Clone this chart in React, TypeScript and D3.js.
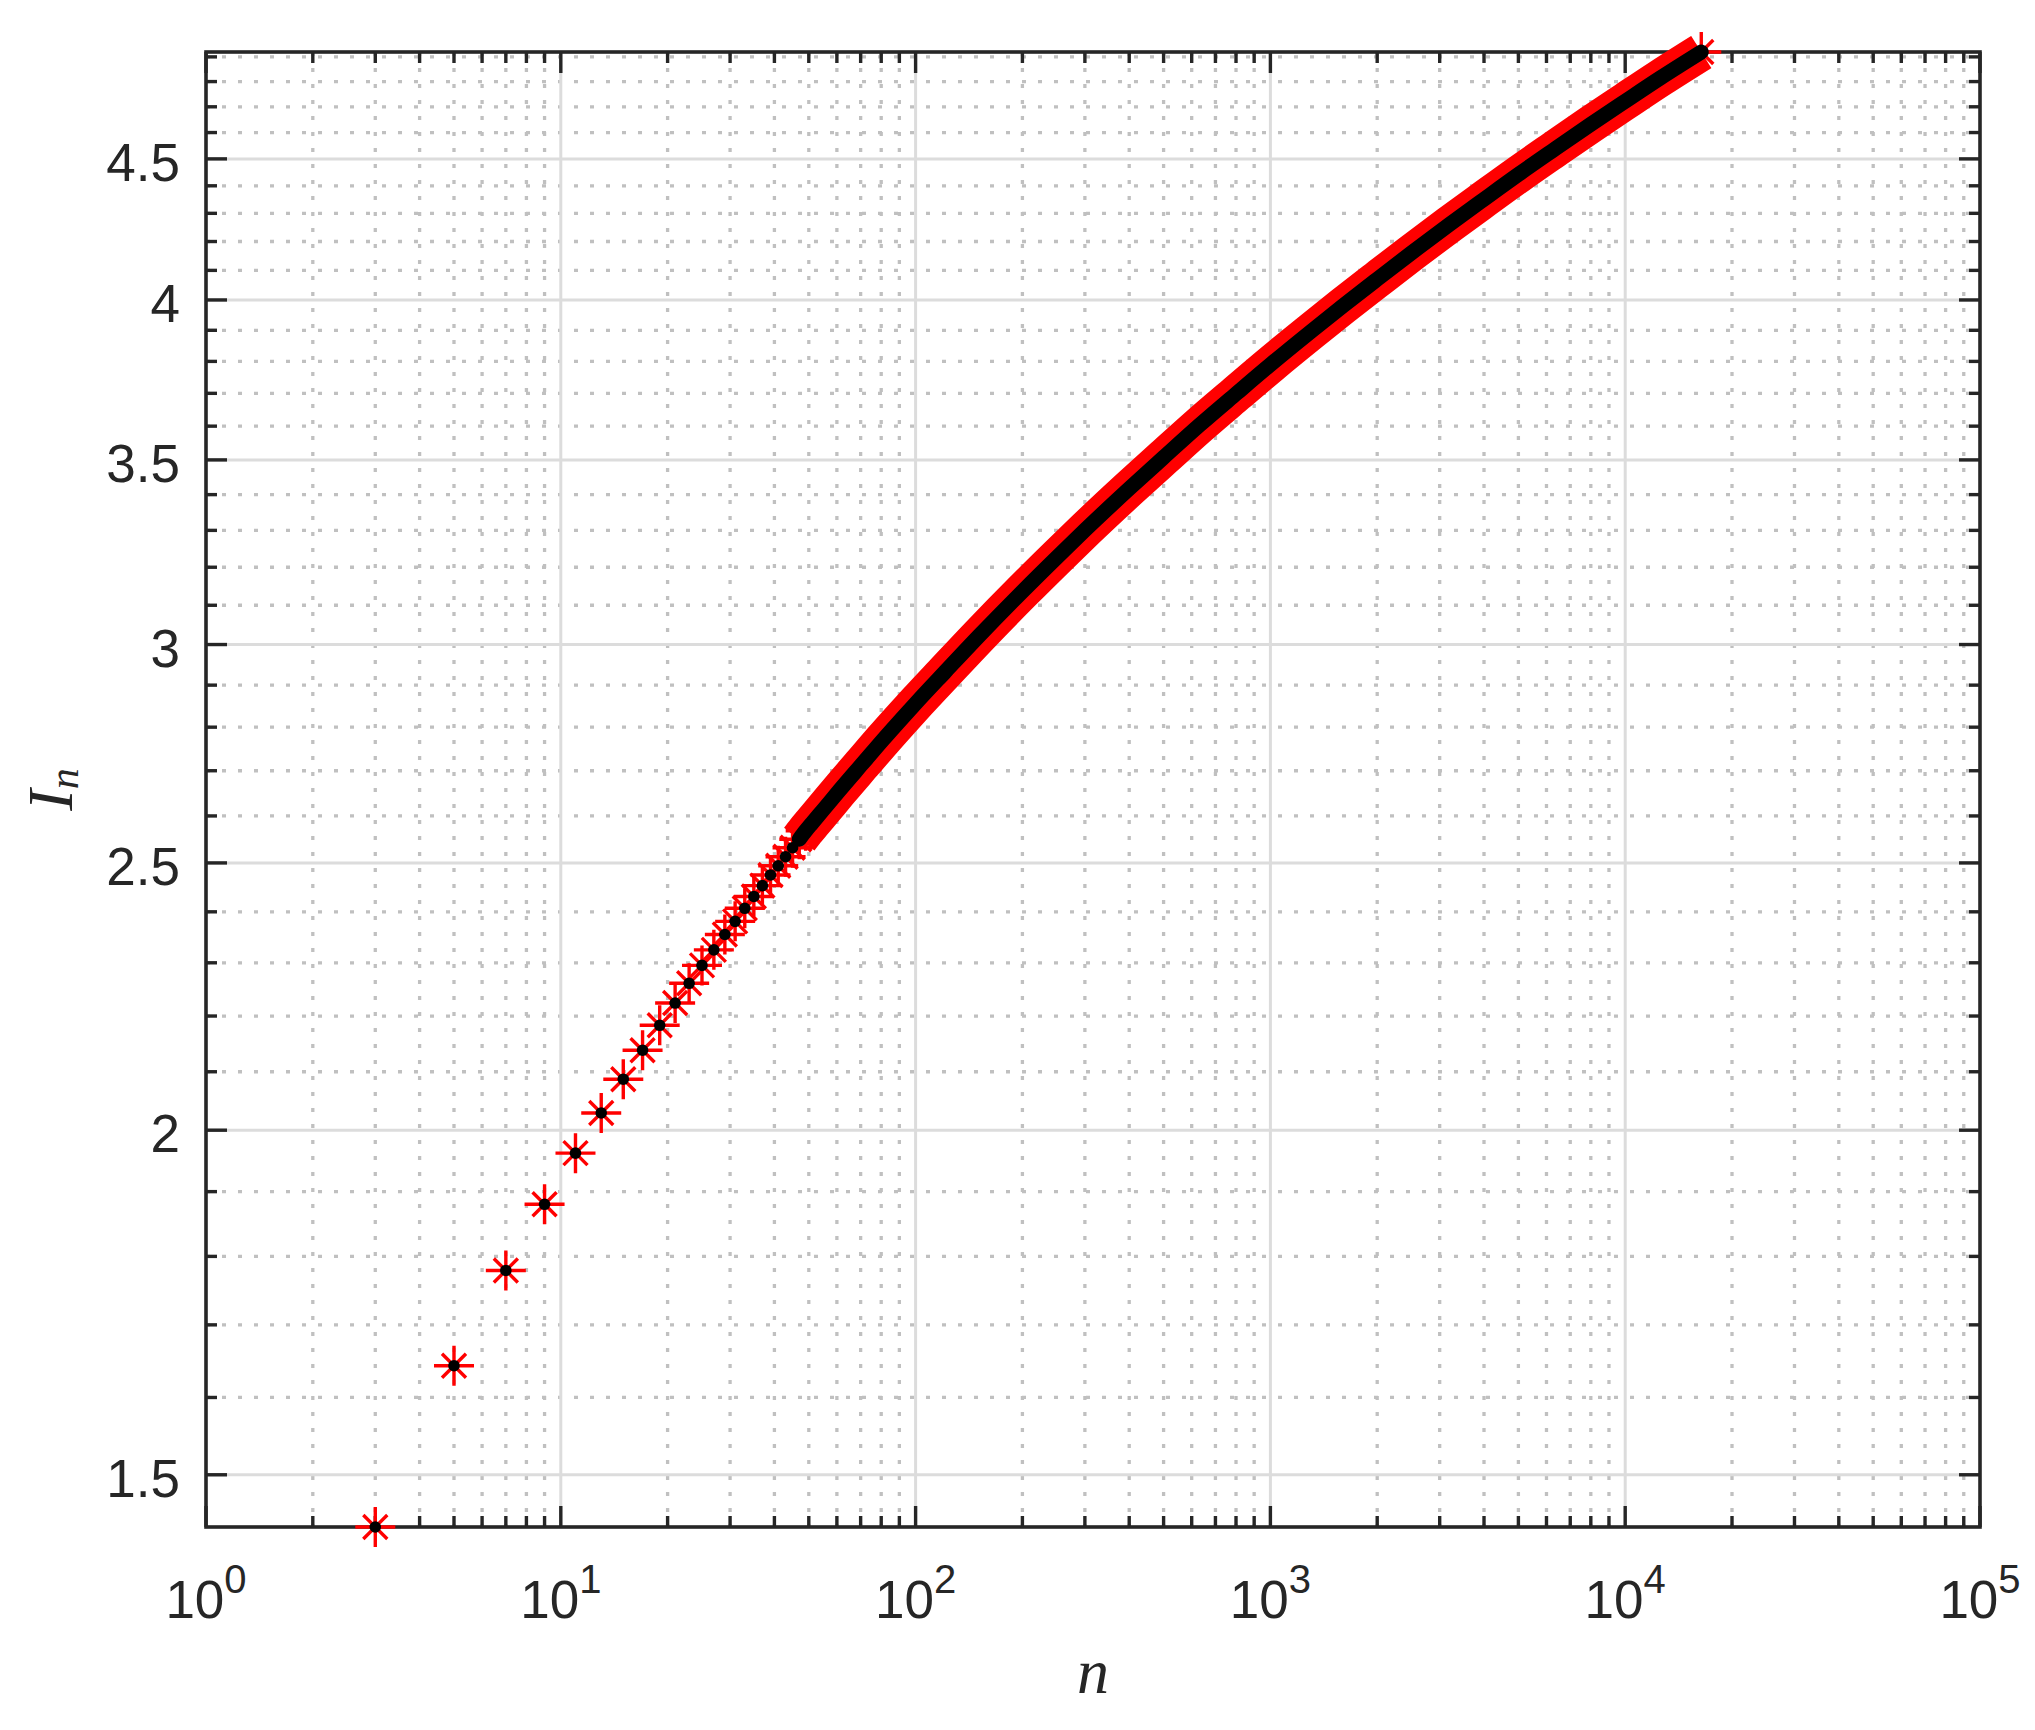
import React, { useEffect, useRef } from 'react'
import * as d3 from 'd3'

// odd n, values
const nValues = [
    3, 5, 7, 9, 11, 13, 15, 17, 19, 21, 23, 25, 27, 29, 31, 33, 35, 37, 39, 41, 43, 45, 47, 49,
    51, 55, 61, 71, 81, 91, 101, 121, 151, 201, 251, 301, 401, 501, 631, 801, 1001, 1301, 1601,
    2001, 2501, 3201, 4001, 5001, 6301, 8001, 10001, 12601, 16383,
]
const inValues = [
    1.436, 1.643, 1.779, 1.880, 1.962, 2.029, 2.087, 2.138, 2.183, 2.224, 2.261, 2.295, 2.325,
    2.355, 2.381, 2.407, 2.431, 2.453, 2.475, 2.494, 2.513, 2.532, 2.550, 2.568,
    2.584, 2.614, 2.656, 2.717, 2.771, 2.818, 2.860, 2.932, 3.022, 3.138, 3.228, 3.302, 3.418,
    3.508, 3.603, 3.699, 3.790, 3.896, 3.980, 4.070, 4.161, 4.261, 4.351, 4.442, 4.535, 4.632,
    4.722, 4.816, 4.920,
]

const xTicks = [1, 10, 100, 1000, 10000, 100000]
const xExponents = ['0', '1', '2', '3', '4', '5']
const yTicks = [1.5, 2, 2.5, 3, 3.5, 4, 4.5]
const yTickLabels = ['1.5', '2', '2.5', '3', '3.5', '4', '4.5']

const App = () => {
    const chart = useRef<SVGSVGElement>(null)

    useEffect(() => {
        const svg = d3.select(chart.current)
        svg.selectAll('*').remove()

        const left = 206, right = 1980, top = 52, bottom = 1527
        const axisColor = '#262626'
        const sans = '"Liberation Sans", Arial, Helvetica, sans-serif'
        const serif = '"Liberation Serif", "Times New Roman", serif'

        const x = d3.scaleLog()
            .domain([xTicks[0], xTicks[xTicks.length - 1]])
            .range([left, right])
        const [yLo, yHi] = d3.extent(inValues) as [number, number]
        const y = d3.scaleLog()
            .domain([yLo, yHi])
            .range([bottom, top])

        const xMinor = xTicks.slice(0, -1).flatMap(d => d3.range(2, 10).map(m => m * d))
        const yMinor = d3.range(15, 50).map(v => v / 10)
            .filter(v => !yTicks.some(t => Math.abs(t - v) < 1e-9))

        // grid
        const grid = svg.append('g')
        grid.selectAll('.xminor').data(xMinor).join('line')
            .attr('x1', d => x(d)).attr('x2', d => x(d))
            .attr('y1', top).attr('y2', bottom)
            .attr('stroke', '#c0c0c0').attr('stroke-width', 3.3)
            .attr('stroke-dasharray', '4 12')
        grid.selectAll('.yminor').data(yMinor).join('line')
            .attr('y1', d => y(d)).attr('y2', d => y(d))
            .attr('x1', left).attr('x2', right)
            .attr('stroke', '#c0c0c0').attr('stroke-width', 3.3)
            .attr('stroke-dasharray', '4 12')
        grid.selectAll('.xmajor').data(xTicks.slice(1, -1)).join('line')
            .attr('x1', d => x(d)).attr('x2', d => x(d))
            .attr('y1', top).attr('y2', bottom)
            .attr('stroke', '#dcdcdc').attr('stroke-width', 3)
        grid.selectAll('.ymajor').data(yTicks).join('line')
            .attr('y1', d => y(d)).attr('y2', d => y(d))
            .attr('x1', left).attr('x2', right)
            .attr('stroke', '#dcdcdc').attr('stroke-width', 3)

        // ticks on all four sides, pointing inwards
        const ticks = svg.append('g').attr('stroke', axisColor).attr('stroke-width', 3.4)
        const xt = [...xTicks.map(v => ({ v, len: 21 })), ...xMinor.map(v => ({ v, len: 11 }))]
        const yt = [...yTicks.map(v => ({ v, len: 21 })), ...yMinor.map(v => ({ v, len: 11 }))]
        ticks.selectAll('.xb').data(xt).join('line')
            .attr('x1', d => x(d.v)).attr('x2', d => x(d.v))
            .attr('y1', bottom).attr('y2', d => bottom - d.len)
        ticks.selectAll('.xt').data(xt).join('line')
            .attr('x1', d => x(d.v)).attr('x2', d => x(d.v))
            .attr('y1', top).attr('y2', d => top + d.len)
        ticks.selectAll('.yl').data(yt).join('line')
            .attr('y1', d => y(d.v)).attr('y2', d => y(d.v))
            .attr('x1', left).attr('x2', d => left + d.len)
        ticks.selectAll('.yr').data(yt).join('line')
            .attr('y1', d => y(d.v)).attr('y2', d => y(d.v))
            .attr('x1', right).attr('x2', d => right - d.len)

        svg.append('rect')
            .attr('x', left).attr('y', top)
            .attr('width', right - left).attr('height', bottom - top)
            .attr('fill', 'none').attr('stroke', axisColor).attr('stroke-width', 3.6)

        // tick labels
        const xl = svg.append('g')
            .attr('font-family', sans).attr('fill', axisColor)
            .attr('text-anchor', 'middle')
        xTicks.forEach((t, i) => {
            const txt = xl.append('text')
                .attr('x', x(t)).attr('y', bottom + 91)
                .attr('font-size', 53)
                .text('10')
            txt.append('tspan')
                .attr('dy', -25).attr('font-size', 40)
                .text(xExponents[i])
        })
        svg.append('g')
            .attr('font-family', sans).attr('fill', axisColor)
            .attr('text-anchor', 'end').attr('font-size', 53)
            .selectAll('text').data(yTicks).join('text')
            .attr('x', left - 26)
            .attr('y', d => y(d) + 22)
            .text((d, i) => yTickLabels[i])

        // axis labels
        svg.append('text')
            .attr('x', (left + right) / 2).attr('y', 1693)
            .attr('text-anchor', 'middle')
            .attr('font-family', serif).attr('font-style', 'italic')
            .attr('font-size', 64).attr('fill', axisColor)
            .text('n')
        const yl = svg.append('text')
            .attr('transform', `translate(72, ${(top + bottom) / 2}) rotate(-90)`)
            .attr('text-anchor', 'middle')
            .attr('font-family', serif).attr('font-style', 'italic')
            .attr('font-size', 64).attr('fill', axisColor)
            .text('I')
        yl.append('tspan').attr('dy', 6).attr('font-size', 42).text('n')

        // data: red asterisks with black dots on top; the dense tail drawn as a band
        const data = nValues.map((n, i) => ({ n, v: inValues[i] }))
        const dense = data.filter(d => d.n >= 47)
        const line = d3.line<{ n: number, v: number }>()
            .x(d => x(d.n)).y(d => y(d.v))
            .curve(d3.curveMonotoneX)

        svg.append('path')
            .datum(dense)
            .attr('d', line)
            .attr('fill', 'none').attr('stroke', '#ff0000')
            .attr('stroke-width', 38).attr('stroke-linejoin', 'round')

        svg.append('g')
            .attr('stroke', '#ff0000').attr('stroke-width', 3.4).attr('fill', 'none')
            .selectAll('path').data(data).join('path')
            .attr('transform', d => `translate(${x(d.n)},${y(d.v)})`)
            .attr('d', 'M-20,0H20M0,-20V20M-12,-12L12,12M-12,12L12,-12')

        svg.append('path')
            .datum(dense)
            .attr('d', line)
            .attr('fill', 'none').attr('stroke', '#000')
            .attr('stroke-width', 15).attr('stroke-linecap', 'round')
            .attr('stroke-linejoin', 'round')

        svg.append('g')
            .attr('fill', '#000')
            .selectAll('circle').data(data).join('circle')
            .attr('cx', d => x(d.n)).attr('cy', d => y(d.v))
            .attr('r', 5.8)
    }, [])

    return (
        <svg ref={chart} width={2035} height={1730}
            style={{ position: 'absolute', left: 0, top: 0, background: '#fff' }} />
    )
}

export default App
